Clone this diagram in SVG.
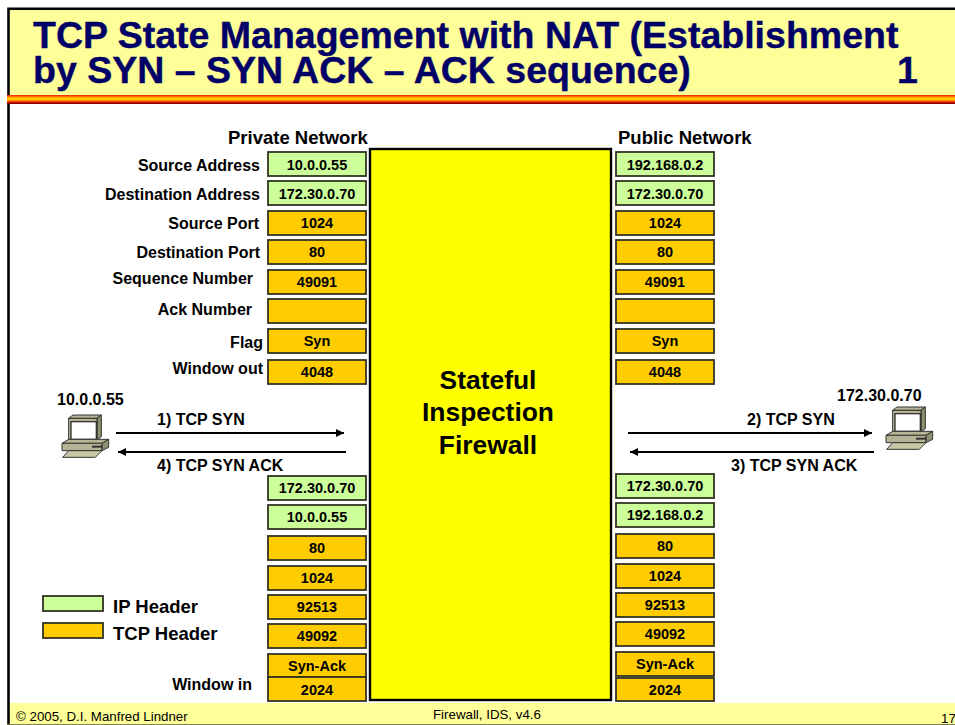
<svg xmlns="http://www.w3.org/2000/svg" width="955" height="725" viewBox="0 0 955 725">
<style>
text{font-family:"Liberation Sans",Arial,sans-serif;font-weight:bold;fill:#000}
.t{font-size:37.5px;fill:#000066;stroke:#000066;stroke-width:.4}
.c{font-size:14.5px;text-anchor:middle}
.l{font-size:16px;text-anchor:end}
.h{font-size:18.5px}
.a{font-size:16px}
.f{font-size:13.3px;font-weight:normal}
.ip{fill:#CCFF99;stroke:#333322;stroke-width:1.8}
.tc{fill:#FFCC00;stroke:#333322;stroke-width:1.8}
.cn{stroke:#000;stroke-width:2.2;fill:none}
.p1{fill:#B5B596;stroke:#333;stroke-width:3}
.p2{fill:#8F8F70;stroke:#333;stroke-width:3}
</style>
<defs>
<linearGradient id="stripe" x1="0" y1="0" x2="0" y2="1">
<stop offset="0" stop-color="#DD2200"/><stop offset=".15" stop-color="#FF6600"/><stop offset=".42" stop-color="#FFDD00"/><stop offset=".62" stop-color="#FF8800"/><stop offset=".8" stop-color="#DD1100"/><stop offset="1" stop-color="#660000"/>
</linearGradient>
<marker id="ah" viewBox="0 0 8 8" refX="8" refY="4" markerWidth="8" markerHeight="8" markerUnits="userSpaceOnUse" orient="auto"><path d="M0 0L8 4L0 8Z" fill="#000"/></marker>
<g id="pc" transform="scale(.3333)">
<path class="p1" d="M20 10L33 0H118L105 10Z"/>
<path class="p2" d="M105 10L118 0V65L105 75Z"/>
<rect class="p1" x="20" y="10" width="85" height="65"/>
<rect x="27" y="20" width="76" height="53" fill="#fff" stroke="#333" stroke-width="4"/>
<path class="p1" d="M0 85L20 73H140L120 85Z"/>
<path class="p1" d="M0 85H120V107H0Z"/>
<path class="p2" d="M120 85L140 73V97L120 107Z"/>
<rect x="90" y="92" width="32" height="6" fill="#333"/>
<path class="p1" d="M2 127L20 107H120L100 127Z" style="fill:#C8C8A8"/>
</g>
</defs>
<rect width="955" height="725" fill="#fff"/>
<rect x="8.5" y="8.8" width="950" height="720" fill="#fff" stroke="#000" stroke-width="2.6"/>
<rect x="10" y="10" width="945" height="85" fill="#FFFF99"/>
<rect x="7" y="95" width="948" height="9" fill="url(#stripe)"/>
<rect x="10" y="703" width="945" height="21" fill="#FFFF99"/>
<rect x="7" y="724" width="948" height="1" fill="#808050"/>
<text class="t" x="33" y="48">TCP State Management with NAT (Establishment</text>
<text class="t" x="33" y="83">by SYN – SYN ACK – ACK sequence)</text>
<text class="t" x="897" y="83">1</text>
<text class="f" x="16" y="721">© 2005, D.I. Manfred Lindner</text>
<text class="f" x="433" y="719">Firewall, IDS, v4.6</text>
<text class="f" x="941" y="723">17</text>

<text class="h" x="228" y="143.5">Private Network</text>
<text class="h" x="618" y="143.5">Public Network</text>
<text class="l" x="260" y="171">Source Address</text>
<text class="l" x="260" y="199.5">Destination Address</text>
<text class="l" x="259" y="228.5">Source Port</text>
<text class="l" x="260" y="257.5">Destination Port</text>
<text class="l" x="253" y="283.5">Sequence Number</text>
<text class="l" x="252" y="314.5">Ack Number</text>
<text class="l" x="263" y="347.5">Flag</text>
<text class="l" x="263" y="373.5">Window out</text>
<text class="l" x="252" y="690">Window in</text>

<g id="firewall"><rect x="370" y="149" width="241" height="551" fill="#FFFF00" stroke="#000" stroke-width="2.4"/>
<text x="488" y="389" font-size="26.4" text-anchor="middle">Stateful</text>
<text x="488" y="421" font-size="26.4" text-anchor="middle">Inspection</text>
<text x="488" y="454" font-size="26.4" text-anchor="middle">Firewall</text></g>

<g id="left-out">
<rect class="ip" x="268" y="152" width="98" height="24"/><text class="c" x="317" y="169.5">10.0.0.55</text>
<rect class="ip" x="268" y="181" width="98" height="24"/><text class="c" x="317" y="199">172.30.0.70</text>
<rect class="tc" x="268" y="211" width="98" height="24"/><text class="c" x="317" y="228">1024</text>
<rect class="tc" x="268" y="240" width="98" height="24"/><text class="c" x="317" y="257">80</text>
<rect class="tc" x="268" y="270" width="98" height="24"/><text class="c" x="317" y="287">49091</text>
<rect class="tc" x="268" y="299" width="98" height="24"/>
<rect class="tc" x="268" y="329" width="98" height="24"/><text class="c" x="317" y="346">Syn</text>
<rect class="tc" x="268" y="360" width="98" height="24"/><text class="c" x="317" y="377">4048</text>
</g>
<g id="right-out">
<rect class="ip" x="616" y="152" width="98" height="24"/><text class="c" x="665" y="169.5">192.168.0.2</text>
<rect class="ip" x="616" y="181" width="98" height="24"/><text class="c" x="665" y="199">172.30.0.70</text>
<rect class="tc" x="616" y="211" width="98" height="24"/><text class="c" x="665" y="228">1024</text>
<rect class="tc" x="616" y="240" width="98" height="24"/><text class="c" x="665" y="257">80</text>
<rect class="tc" x="616" y="270" width="98" height="24"/><text class="c" x="665" y="287">49091</text>
<rect class="tc" x="616" y="299" width="98" height="24"/>
<rect class="tc" x="616" y="329" width="98" height="24"/><text class="c" x="665" y="346">Syn</text>
<rect class="tc" x="616" y="360" width="98" height="24"/><text class="c" x="665" y="377">4048</text>
</g>
<g id="left-in">
<rect class="ip" x="268" y="476" width="98" height="24"/><text class="c" x="317" y="493">172.30.0.70</text>
<rect class="ip" x="268" y="505" width="98" height="24"/><text class="c" x="317" y="522">10.0.0.55</text>
<rect class="tc" x="268" y="536" width="98" height="24"/><text class="c" x="317" y="553">80</text>
<rect class="tc" x="268" y="566" width="98" height="24"/><text class="c" x="317" y="583">1024</text>
<rect class="tc" x="268" y="595" width="98" height="24"/><text class="c" x="317" y="612">92513</text>
<rect class="tc" x="268" y="624" width="98" height="24"/><text class="c" x="317" y="641">49092</text>
<rect class="tc" x="268" y="654" width="98" height="23"/><text class="c" x="317" y="671">Syn-Ack</text>
<rect class="tc" x="268" y="677" width="98" height="24"/><text class="c" x="317" y="695">2024</text>
</g>
<g id="right-in">
<rect class="ip" x="616" y="474" width="98" height="24"/><text class="c" x="665" y="491">172.30.0.70</text>
<rect class="ip" x="616" y="503" width="98" height="24"/><text class="c" x="665" y="520">192.168.0.2</text>
<rect class="tc" x="616" y="534" width="98" height="24"/><text class="c" x="665" y="551">80</text>
<rect class="tc" x="616" y="564" width="98" height="24"/><text class="c" x="665" y="581">1024</text>
<rect class="tc" x="616" y="593" width="98" height="24"/><text class="c" x="665" y="610">92513</text>
<rect class="tc" x="616" y="622" width="98" height="24"/><text class="c" x="665" y="639">49092</text>
<rect class="tc" x="616" y="652" width="98" height="24"/><text class="c" x="665" y="669">Syn-Ack</text>
<rect class="tc" x="616" y="678" width="98" height="23"/><text class="c" x="665" y="695">2024</text>
</g>
<g id="legend">
<rect class="ip" x="43" y="596" width="60" height="15"/><text class="h" x="113" y="612.5">IP Header</text>
<rect class="tc" x="43" y="623" width="60" height="15"/><text class="h" x="113" y="639.5">TCP Header</text>
</g>
<g id="host-a"><use href="#pc" x="62" y="415"/><text class="a" x="57" y="405">10.0.0.55</text></g>
<g id="host-b"><use href="#pc" x="886" y="407"/><text class="a" x="837" y="401">172.30.0.70</text></g>
<g id="connectors">
<line class="cn" x1="116" y1="433" x2="344" y2="433" marker-end="url(#ah)"/>
<line class="cn" x1="346" y1="452" x2="118" y2="452" marker-end="url(#ah)"/>
<line class="cn" x1="628" y1="433" x2="872" y2="433" marker-end="url(#ah)"/>
<line class="cn" x1="874" y1="452" x2="630" y2="452" marker-end="url(#ah)"/>
</g>
<text class="a" x="157" y="425">1) TCP SYN</text>
<text class="a" x="157" y="471">4) TCP SYN ACK</text>
<text class="a" x="747" y="425">2) TCP SYN</text>
<text class="a" x="731" y="471">3) TCP SYN ACK</text>
</svg>
